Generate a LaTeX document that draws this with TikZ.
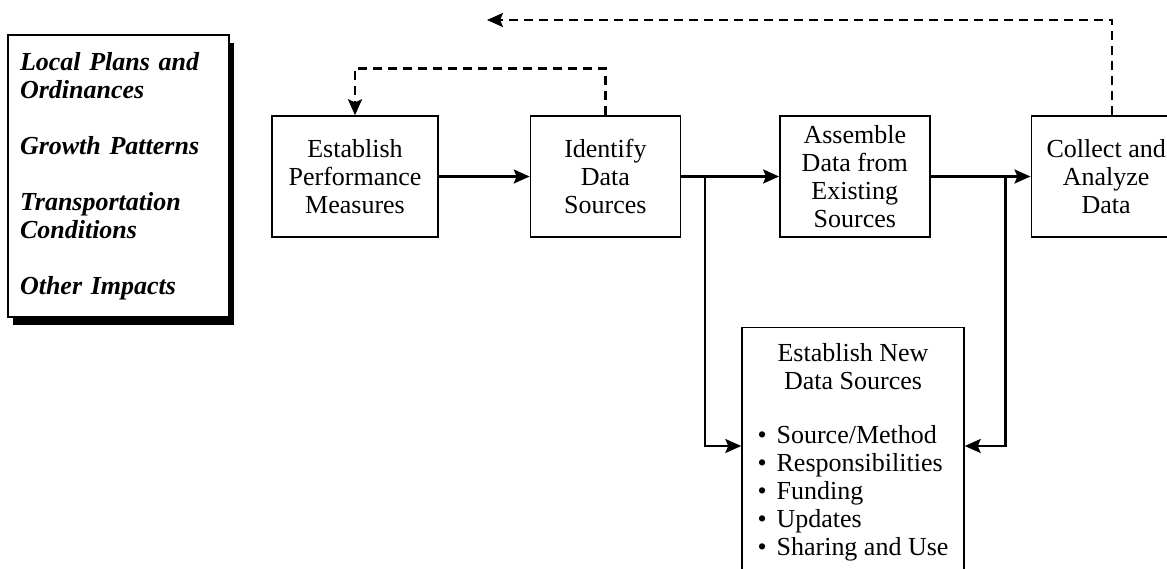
\documentclass[tikz,border=0pt]{standalone}
\usepackage{fontspec}
\setmainfont{Liberation Serif}
\usetikzlibrary{arrows.meta,calc,positioning,shadows}

\begin{document}
\begin{tikzpicture}[
  node distance=45pt,
  stage/.style={draw,line width=0.7pt,align=center,minimum height=60.5pt,minimum width=75pt,inner sep=4pt,font=\fontsize{13}{14}\selectfont},
  factors/.style={draw,line width=0.7pt,fill=white,align=left,text width=98.5pt,inner xsep=6pt,minimum height=141pt,
    drop shadow={shadow xshift=2.5pt,shadow yshift=-4pt,opacity=1,fill=black},font=\fontsize{13}{14}\selectfont\bfseries\itshape},
  arr/.style={-{Stealth[length=8pt,width=7pt,inset=1.5pt]},line width=1.2pt},
  back/.style={arr,dash pattern=on 4.5pt off 3pt}
]
  \useasboundingbox (0,0) rectangle (583.5pt,-284pt);
  \clip (0,0) rectangle (583.5pt,-284pt);

  \node[factors] (inputs) at (59.25pt,-88pt)
    {Local Plans and\\Ordinances\\[14pt]Growth Patterns\\[14pt]Transportation\\Conditions\\[14pt]Other Impacts};

  \node[stage,minimum width=83pt] (measures) at (177.5pt,-88.25pt) {Establish\\Performance\\Measures};
  \node[stage,right=45.5pt of measures] (identify) {Identify\\Data\\Sources};
  \node[stage,right=49pt of identify] (assemble) {Assemble\\Data from\\Existing\\Sources};
  \node[stage,right=50pt of assemble] (collect) {Collect and\\Analyze\\Data};

  \node[stage,minimum width=111pt,inner ysep=8pt,text depth=40pt,anchor=north] (newsrc) at (426.5pt,-163.5pt)
    {Establish New\\Data Sources\\[16pt]
     \begin{tabular}{@{}l@{}}
       \textbullet\hspace{5pt}Source/Method\\
       \textbullet\hspace{5pt}Responsibilities\\
       \textbullet\hspace{5pt}Funding\\
       \textbullet\hspace{5pt}Updates\\
       \textbullet\hspace{5pt}Sharing and Use
     \end{tabular}};

  \draw[arr] (measures) -- (identify);
  \draw[arr] (identify) -- (assemble);
  \draw[arr] (assemble) -- (collect);
  \draw[arr] ($(identify.east)+(12pt,0)$) |- ([yshift=-59.5pt]newsrc.north west);
  \draw[arr] ($(collect.west)+(-12.5pt,0)$) |- ([yshift=-59.5pt]newsrc.north east);

  \draw[back] (identify.north) -- ++(0,23.5pt) -| (measures.north);
  \coordinate (loopend) at (243.5pt,-10pt);
  \draw[back] ([xshift=3pt]collect.north) |- (loopend);
\end{tikzpicture}
\end{document}
